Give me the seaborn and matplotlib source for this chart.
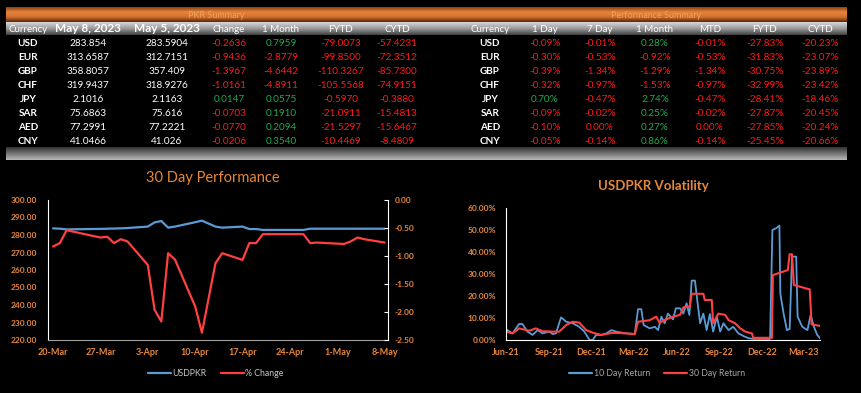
import numpy as np
import pandas as pd
import matplotlib
matplotlib.use("Agg")
import matplotlib.pyplot as plt
from matplotlib.colors import LinearSegmentedColormap
from matplotlib.lines import Line2D
import seaborn as sns

# ---------------- data ----------------
currencies = ["USD", "EUR", "GBP", "CHF", "JPY", "SAR", "AED", "CNY"]
rate_may8 = [283.854, 313.6587, 358.8057, 319.9437, 2.1016, 75.6863, 77.2991, 41.0466]
rate_may5 = [283.5904, 312.7151, 357.409, 318.9276, 2.1163, 75.616, 77.2221, 41.026]
chg = [-0.2636, -0.9436, -1.3967, -1.0161, 0.0147, -0.0703, -0.0770, -0.0206]
chg_1m = [0.7959, -2.8779, -4.6442, -4.8911, 0.0575, 0.1910, 0.2094, 0.3540]
chg_fytd = [-79.0073, -99.8500, -110.3267, -105.5568, -0.5970, -21.0911, -21.5297, -10.4469]
chg_cytd = [-57.4231, -72.3512, -85.7300, -74.9151, -0.3880, -15.4813, -15.6467, -8.4809]
pkr_headers = ["Currency", "May 8, 2023", "May 5, 2023", "Change", "1 Month", "FYTD", "CYTD"]

perf_headers = ["Currency", "1 Day", "7 Day", "1 Month", "MTD", "FYTD", "CYTD"]
p_1d = [-0.09, -0.30, -0.39, -0.32, 0.70, -0.09, -0.10, -0.05]
p_7d = [-0.01, -0.53, -1.34, -0.97, -0.47, -0.02, 0.00, -0.14]
p_1m = [0.28, -0.92, -1.29, -1.53, 2.74, 0.25, 0.27, 0.86]
p_mtd = [-0.01, -0.53, -1.34, -0.97, -0.47, -0.02, 0.00, -0.14]
p_fytd = [-27.83, -31.83, -30.75, -32.99, -28.41, -27.87, -27.85, -25.45]
p_cytd = [-20.23, -23.07, -23.89, -23.42, -18.46, -20.45, -20.24, -20.66]

perf_dates = ["2023-03-20", "2023-03-21", "2023-03-22", "2023-03-27", "2023-03-28", "2023-03-29",
              "2023-03-30", "2023-03-31", "2023-04-03", "2023-04-04", "2023-04-05", "2023-04-06",
              "2023-04-07", "2023-04-10", "2023-04-11", "2023-04-13", "2023-04-14", "2023-04-17",
              "2023-04-18", "2023-04-19", "2023-04-20", "2023-04-26", "2023-04-27", "2023-04-28",
              "2023-05-02", "2023-05-03", "2023-05-04", "2023-05-05", "2023-05-08"]
usdpkr = [283.8, 283.6, 283.2, 283.5, 283.6, 283.7, 283.8, 284.0, 284.8, 287.2, 288.0, 284.2,
          284.8, 287.3, 288.2, 284.8, 284.2, 284.8, 283.4, 283.4, 282.9, 282.9, 283.6, 283.6,
          283.6, 283.6, 283.6, 283.6, 283.6]
pct_change = [-0.83, -0.77, -0.54, -0.67, -0.655, -0.77, -0.70, -0.74, -1.16, -1.96, -2.17, -0.95,
              -1.06, -1.90, -2.37, -1.13, -0.95, -1.07, -0.77, -0.77, -0.61, -0.61, -0.77, -0.76,
              -0.785, -0.74, -0.67, -0.70, -0.76]
perf_ticks = ["2023-03-20", "2023-03-27", "2023-04-03", "2023-04-10", "2023-04-17", "2023-04-24",
              "2023-05-01", "2023-05-08"]
perf_tick_labels = ["20-Mar", "27-Mar", "3-Apr", "10-Apr", "17-Apr", "24-Apr", "1-May", "8-May"]
left_ticks = [220, 230, 240, 250, 260, 270, 280, 290, 300]
right_ticks = [-2.5, -2.0, -1.5, -1.0, -0.5, 0.0]

vol10_dates = ["2021-06-01", "2021-06-15", "2021-06-29", "2021-07-06", "2021-07-17", "2021-07-28",
               "2021-08-08", "2021-08-18", "2021-09-02", "2021-09-09", "2021-09-16", "2021-09-27",
               "2021-10-08", "2021-10-22", "2021-11-05", "2021-11-16", "2021-11-27", "2021-12-04",
               "2021-12-11", "2021-12-22", "2022-01-02", "2022-01-13", "2022-01-23", "2022-02-14",
               "2022-03-04", "2022-03-11", "2022-03-18", "2022-03-23", "2022-04-05", "2022-04-16",
               "2022-04-23", "2022-04-30", "2022-05-07", "2022-05-14", "2022-05-25", "2022-05-31",
               "2022-06-09", "2022-06-16", "2022-06-23", "2022-06-29", "2022-07-04", "2022-07-11",
               "2022-07-16", "2022-07-22", "2022-07-29", "2022-08-05", "2022-08-12", "2022-08-19",
               "2022-08-27", "2022-09-03", "2022-09-10", "2022-09-21", "2022-10-01", "2022-10-12",
               "2022-10-23", "2022-11-03", "2022-11-13", "2022-12-19", "2022-12-24", "2023-01-01",
               "2023-01-08", "2023-01-10", "2023-01-17", "2023-01-24", "2023-01-30", "2023-02-04",
               "2023-02-13", "2023-02-16", "2023-02-26", "2023-03-09", "2023-03-16", "2023-03-23",
               "2023-03-30", "2023-04-05"]
vol10 = [4.9, 3.0, 7.3, 7.3, 3.8, 2.3, 4.5, 3.0, 3.8, 2.7,
         3.0, 10.3, 8.3, 7.6, 6.0, 3.8, 0.0, 0.0, 2.3, 2.3,
         3.0, 4.5, 3.8, 3.0, 2.7, 14.0, 14.0, 6.8, 5.3, 6.0,
         4.5, 10.6, 7.6, 12.0, 9.4, 14.4, 14.4, 12.0, 16.7, 11.4,
         27.0, 27.0, 18.0, 7.6, 12.0, 4.5, 11.8, 3.8, 10.6, 3.8,
         7.6, 4.5, 6.0, 3.0, 1.8, 0.8, 0.5, 0.5, 50.0, 50.8,
         52.0, 21.0, 12.0, 4.5, 5.0, 37.9, 37.9, 10.6, 6.0, 4.5,
         11.4, 6.0, 2.3, 0.8]
vol30_dates = ["2021-06-01", "2021-06-15", "2021-06-29", "2021-07-21", "2021-08-04", "2021-08-18",
               "2021-09-09", "2021-09-23", "2021-10-08", "2021-10-22", "2021-11-05", "2021-11-20",
               "2021-12-04", "2021-12-22", "2022-01-16", "2022-02-14", "2022-03-04", "2022-03-11",
               "2022-04-05", "2022-04-19", "2022-04-26", "2022-05-11", "2022-05-25", "2022-06-09",
               "2022-06-16", "2022-06-23", "2022-06-30", "2022-07-04", "2022-07-29", "2022-08-01",
               "2022-08-16", "2022-08-19", "2022-08-30", "2022-09-14", "2022-09-21", "2022-10-05",
               "2022-10-16", "2022-10-27", "2022-11-10", "2022-11-13", "2022-12-23", "2022-12-25",
               "2023-01-26", "2023-01-30", "2023-02-04", "2023-02-08", "2023-03-14", "2023-03-18",
               "2023-04-05"]
vol30 = [3.8, 3.0, 5.3, 4.2, 5.3, 4.0, 3.8, 3.8, 6.8, 8.3,
         7.9, 4.5, 3.3, 2.3, 3.3, 3.0, 2.7, 8.3, 9.0, 10.6,
         7.9, 9.4, 10.6, 11.4, 14.8, 15.2, 15.2, 21.0, 21.0, 18.2,
         18.2, 7.6, 12.0, 11.4, 9.0, 7.6, 5.3, 3.8, 3.0, 1.0,
         1.0, 29.5, 31.8, 39.0, 39.0, 25.0, 23.0, 7.1, 6.4]
vol_ticks = ["2021-06-01", "2021-09-01", "2021-12-01", "2022-03-01", "2022-06-01", "2022-09-01",
             "2022-12-01", "2023-03-01"]
vol_tick_labels = ["Jun-21", "Sep-21", "Dec-21", "Mar-22", "Jun-22", "Sep-22", "Dec-22", "Mar-23"]
vol_yticks = [0, 10, 20, 30, 40, 50, 60]

# ---------------- style ----------------
sns.set_style("dark", {"axes.facecolor": "black", "figure.facecolor": "black"})
plt.rcParams['font.family'] = ['Lato', 'DejaVu Sans']

W, H = 862, 393
fig = plt.figure(figsize=(W / 100, H / 100), dpi=100, facecolor='black')

ORANGE = '#e8883a'
RED = '#ff1a1a'
GREEN = '#1faa50'
BLUE_L = '#5b9bd5'
RED_L = '#ff4040'


def band(x0, y0, x1, y1, colors):
    ax = fig.add_axes([x0 / W, 1 - y1 / H, (x1 - x0) / W, (y1 - y0) / H])
    cmap = LinearSegmentedColormap.from_list('g', colors)
    ax.imshow(np.linspace(0, 1, 64).reshape(-1, 1), aspect='auto', cmap=cmap,
              extent=[0, 1, 0, 1], origin='upper')
    ax.set_axis_off()


def txt(x, y, s, **kw):
    fig.text(x / W, 1 - y / H, s, ha='center', va='center', **kw)


# bands
band(6, 7, 847, 22, ['#8a4014', '#e8843c', '#d07030', '#5a2808'])
band(6, 22, 847, 35, ['#d8d8d8', '#9a9a9a', '#404040'])
band(6, 147, 847, 160, ['#282828', '#707070', '#b8b8b8'])

txt(216, 15, "PKR Summary", color='#f0a258', fontsize=6.5)
txt(656, 15, "Performance Summary", color='#f0a258', fontsize=6.5)

# PKR table
pkr_cols = [28, 88, 167, 229, 281, 341, 397]
for i, h in enumerate(pkr_headers):
    if i in (1, 2):
        txt(pkr_cols[i], 29, h, color='white', fontsize=8.5, fontweight='bold')
    else:
        txt(pkr_cols[i], 29, h, color='white', fontsize=7)

row_y = [43.3 + 14 * k for k in range(8)]


def col(v):
    return GREEN if v > 0 else RED


for k in range(8):
    y = row_y[k]
    txt(pkr_cols[0], y, currencies[k], color='white', fontsize=7.2, fontweight='bold')
    txt(pkr_cols[1], y, str(rate_may8[k]), color='white', fontsize=7.2)
    txt(pkr_cols[2], y, str(rate_may5[k]), color='white', fontsize=7.2)
    for j, arr in enumerate([chg, chg_1m, chg_fytd, chg_cytd]):
        v = arr[k]
        txt(pkr_cols[3 + j], y, f"{v:.4f}", color=col(v), fontsize=7.2)

# Performance table
perf_cols = [490, 545, 600, 655, 710, 765, 820]
for i, h in enumerate(perf_headers):
    txt(perf_cols[i], 29, h, color='white', fontsize=7)
for k in range(8):
    y = row_y[k]
    txt(perf_cols[0], y, currencies[k], color='white', fontsize=7.2, fontweight='bold')
    for j, arr in enumerate([p_1d, p_7d, p_1m, p_mtd, p_fytd, p_cytd]):
        v = arr[k]
        txt(perf_cols[1 + j], y, f"{v:.2f}%", color=col(v), fontsize=7.2)

# ---------------- 30 Day Performance ----------------
ax1 = fig.add_axes([48 / W, 1 - 340 / H, (388 - 48) / W, (340 - 200) / H])
ax1.set_facecolor('black')
d1 = pd.to_datetime(perf_dates)
sns.lineplot(x=d1, y=usdpkr, ax=ax1, color=BLUE_L, linewidth=1.6)
ax1.set_ylim(220, 300)
ax1.set_yticks(left_ticks)
ax1.set_yticklabels([f"{v:.2f}" for v in left_ticks])
ax1.set_xlim(pd.Timestamp("2023-03-19 06:00"), pd.Timestamp("2023-05-08 12:00"))
ax1.set_xticks(pd.to_datetime(perf_ticks))
ax1.set_xticklabels(perf_tick_labels)
ax2 = ax1.twinx()
sns.lineplot(x=d1, y=pct_change, ax=ax2, color=RED_L, linewidth=1.6)
ax2.set_ylim(-2.5, 0)
ax2.set_yticks(right_ticks)
ax2.set_yticklabels([f"{v:.2f}" for v in right_ticks])
for a in (ax1, ax2):
    a.grid(False)
    a.set_xlabel("")
    a.set_ylabel("")
    for s in a.spines.values():
        s.set_visible(False)
ax1.spines['left'].set_visible(True)
ax1.spines['left'].set_color('white')
ax1.spines['bottom'].set_visible(True)
ax1.spines['bottom'].set_color('#a0a0a0')
ax2.spines['right'].set_visible(True)
ax2.spines['right'].set_color('white')
ax1.tick_params(axis='y', colors=ORANGE, labelsize=6, length=0, pad=8)
ax1.tick_params(axis='x', colors=ORANGE, labelsize=6.5, length=0, pad=6)
ax2.tick_params(axis='y', colors='white', labelcolor=ORANGE, labelsize=6, length=3, pad=5,
                direction='in')
for lab in ax1.get_yticklabels() + ax1.get_xticklabels() + ax2.get_yticklabels():
    lab.set_fontweight('bold')
txt(213, 178, "30 Day Performance", color=ORANGE, fontsize=10.5)
fig.legend(handles=[Line2D([], [], color=BLUE_L, lw=1.6), Line2D([], [], color=RED_L, lw=1.6)],
           labels=["USDPKR", "% Change"], loc='center', bbox_to_anchor=(216 / W, 1 - 374 / H),
           ncol=2, frameon=False, fontsize=6.3, labelcolor='#c8c8c8', handlelength=2.6,
           columnspacing=1.6, handletextpad=0.2)

# ---------------- USDPKR Volatility ----------------
ax3 = fig.add_axes([506 / W, 1 - 340 / H, (820 - 506) / W, (340 - 208) / H])
ax3.set_facecolor('black')
sns.lineplot(x=pd.to_datetime(vol10_dates), y=vol10, ax=ax3, color=BLUE_L, linewidth=1.3)
sns.lineplot(x=pd.to_datetime(vol30_dates), y=vol30, ax=ax3, color=RED_L, linewidth=1.5)
ax3.set_ylim(0, 60)
ax3.set_yticks(vol_yticks)
ax3.set_yticklabels([f"{v:.2f}%" for v in vol_yticks])
ax3.set_xlim(pd.Timestamp("2021-06-01"), pd.Timestamp("2023-04-05"))
ax3.set_xticks(pd.to_datetime(vol_ticks))
ax3.set_xticklabels(vol_tick_labels)
ax3.grid(False)
ax3.set_xlabel("")
ax3.set_ylabel("")
for s in ax3.spines.values():
    s.set_visible(False)
ax3.spines['left'].set_visible(True)
ax3.spines['left'].set_color('white')
ax3.spines['bottom'].set_visible(True)
ax3.spines['bottom'].set_color('white')
ax3.tick_params(axis='y', colors=ORANGE, labelsize=6, length=0, pad=7)
ax3.tick_params(axis='x', colors=ORANGE, labelsize=6.5, length=0, pad=6)
for lab in ax3.get_yticklabels() + ax3.get_xticklabels():
    lab.set_fontweight('bold')
txt(653, 186, "USDPKR Volatility", color=ORANGE, fontsize=9.5, fontweight='bold')
fig.legend(handles=[Line2D([], [], color=BLUE_L, lw=1.6), Line2D([], [], color=RED_L, lw=1.6)],
           labels=["10 Day Return", "30 Day Return"], loc='center',
           bbox_to_anchor=(657 / W, 1 - 374 / H), ncol=2, frameon=False, fontsize=6.3,
           labelcolor='#a8a8a8', handlelength=2.6, columnspacing=1.6, handletextpad=0.2)

fig.savefig("out.png", dpi=100, facecolor='black')
